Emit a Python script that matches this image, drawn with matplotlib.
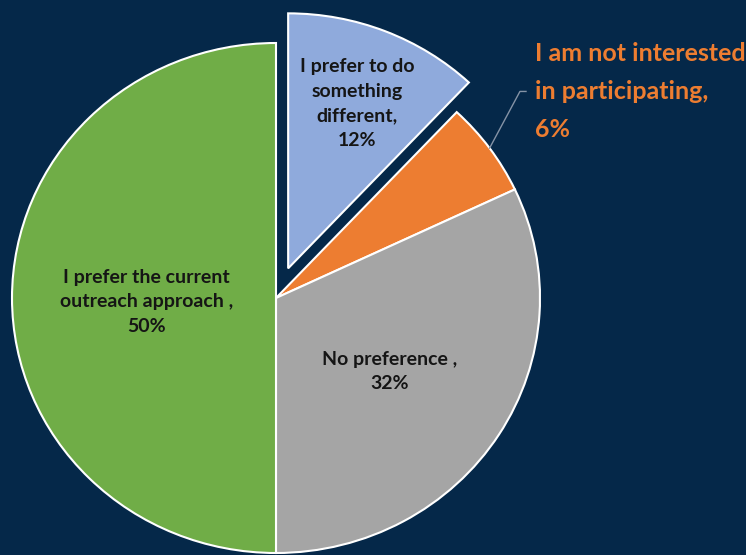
import numpy as np
import matplotlib.pyplot as plt

# Survey responses
labels = ['I prefer to do\nsomething\ndifferent,\n12%',
          'I am not interested\nin participating,\n6%',
          'No preference ,\n32%',
          'I prefer the current\noutreach approach ,\n50%']
shares = [12, 6, 32, 50]
colors = ['#8faadc', '#ed7d31', '#a5a5a5', '#70ad47']
explode = [0.125, 0, 0, 0]
label_radius = [0.71, None, 0.51, 0.49]

bg = '#052849'
plt.rcParams['font.family'] = ['Lato', 'DejaVu Sans']

fig = plt.figure(figsize=(7.46, 5.55), dpi=100, facecolor=bg)
ax = fig.add_axes([0, 0, 1, 1])
ax.set_facecolor(bg)

wedges, _ = ax.pie(shares, colors=colors, explode=explode, startangle=90,
                   counterclock=False, radius=1,
                   wedgeprops=dict(edgecolor='white', linewidth=1.5))

# slightly wider than tall, like the original slide
ax.set_aspect('auto')
ax.set_xlim(-276 / 264, 470 / 264)
ax.set_ylim(-257 / 255, 298 / 255)
ax.axis('off')

for w, lab, r, ex in zip(wedges, labels, label_radius, explode):
    mid = np.deg2rad((w.theta1 + w.theta2) / 2)
    if r is None:
        # outside label with a bent leader line
        tx, ty = 0.98, 0.81
        ax.plot([np.cos(mid), tx - 0.056, tx - 0.033],
                [np.sin(mid), ty, ty], color='#8593a6', lw=1)
        ax.text(tx, ty, lab, ha='left', va='center', fontsize=18,
                fontweight='bold', color='#ed7d31', linespacing=1.8)
        continue
    x = (r + ex) * np.cos(mid)
    y = (r + ex) * np.sin(mid) - 0.015
    ax.text(x, y, lab, ha='center', va='center', fontsize=14,
            fontweight='bold', color='#151515', linespacing=1.55)

fig.savefig('out.png', dpi=100, facecolor=bg)
